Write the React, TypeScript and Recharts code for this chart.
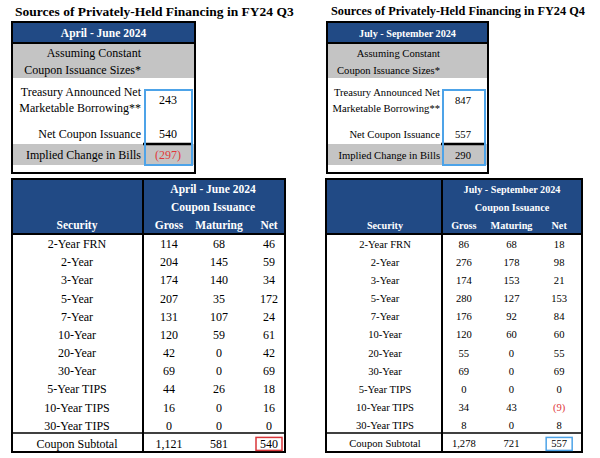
import { ScatterChart, Scatter, XAxis, YAxis, Customized } from 'recharts';

const securities = [
  '2-Year FRN', '2-Year', '3-Year', '5-Year', '7-Year', '10-Year', '20-Year',
  '30-Year', '5-Year TIPS', '10-Year TIPS', '30-Year TIPS', 'Coupon Subtotal',
];
const columns = ['Gross', 'Maturing', 'Net'];

const q3Gross = [114, 204, 174, 207, 131, 120, 42, 69, 44, 16, 0, 1121];
const q3Maturing = [68, 145, 140, 35, 107, 59, 0, 0, 26, 0, 0, 581];
const q3Net = [46, 59, 34, 172, 24, 61, 42, 69, 18, 16, 0, 540];

const q4Gross = [86, 276, 174, 280, 176, 120, 55, 69, 0, 34, 8, 1278];
const q4Maturing = [68, 178, 153, 127, 92, 60, 0, 0, 0, 43, 0, 721];
const q4Net = [18, 98, 21, 153, 84, 60, 55, 69, 0, -9, 8, 557];

const borrowingLabels = [
  ['Treasury Announced Net', 'Marketable Borrowing**'],
  ['Net Coupon Issuance'],
  ['Implied Change in Bills'],
];
const q3Borrowing = [243, 540, -297];
const q4Borrowing = [847, 557, 290];

const BLUE = '#214a85';
const GREY = '#c4c4c4';
const LIGHT_BLUE = '#4da3e8';
const RED = '#e0383a';
const FONT = '"Liberation Serif", serif';

const fmt = (v: number) => {
  const s = Math.abs(v).toLocaleString('en-US');
  return v < 0 ? `(${s})` : s;
};

type HalfProps = {
  title: string;
  period: string;
  borrowing: number[];
  gross: number[];
  maturing: number[];
  net: number[];
  g: any;
  subtotalBox: string;
};

const Half = ({ title, period, borrowing, gross, maturing, net, g, subtotalBox }: HalfProps) => {
  const series = [gross, maturing, net].map((vals, c) =>
    securities.map((row, i) => ({ row, col: c, value: vals[i] }))
  );
  const fs = g.fs;
  const fb = g.fb;

  const Deco = () => (
    <g fontFamily={FONT}>
      <text x={g.titleX} y={11} dominantBaseline="central" fontSize={g.ft} fontWeight="bold" fill="#000">{title}</text>
      {/* top box */}
      <rect x={g.bx0} y={22} width={g.bx1 - g.bx0} height={151} fill="#fff" stroke="#000" strokeWidth={2} />
      <rect x={g.bx0 + 1} y={23} width={g.bx1 - g.bx0 - 2} height={20} fill={BLUE} />
      <line x1={g.bx0} x2={g.bx1} y1={43} y2={43} stroke="#000" strokeWidth={2} />
      <rect x={g.bx0 + 1} y={44} width={g.bx1 - g.bx0 - 2} height={34} fill={GREY} />
      <rect x={g.bx0 + 1} y={144} width={g.bx1 - g.bx0 - 2} height={21} fill={GREY} />
      <text x={(g.bx0 + g.bx1) / 2} y={33} textAnchor="middle" dominantBaseline="central" fontSize={fb} fontWeight="bold" fill="#fff">{period}</text>
      <text x={g.labelR} y={53} textAnchor="end" dominantBaseline="central" fontSize={fs}>Assuming Constant</text>
      <text x={g.labelR} y={70} textAnchor="end" dominantBaseline="central" fontSize={fs}>Coupon Issuance Sizes*</text>
      {borrowingLabels.map((lines, i) => {
        const ys = [[92, 108], [134], [155]][i];
        const vy = [100, 134, 155][i];
        return (
          <g key={i}>
            {lines.map((l, j) => (
              <text key={j} x={g.labelR} y={ys[j]} textAnchor="end" dominantBaseline="central" fontSize={fs}>{l}</text>
            ))}
            <text x={g.valX} y={vy} textAnchor="middle" dominantBaseline="central" fontSize={fs} fill={borrowing[i] < 0 ? RED : '#000'}>{fmt(borrowing[i])}</text>
          </g>
        );
      })}
      <line x1={g.valBox0 - 2} x2={g.valBox1 + 1} y1={144} y2={144} stroke="#000" strokeWidth={2.5} />
      <rect x={g.valBox0} y={90} width={g.valBox1 - g.valBox0} height={75} fill="none" stroke={LIGHT_BLUE} strokeWidth={2} />
      {/* bottom table */}
      <rect x={g.tx0} y={179} width={g.tx1 - g.tx0} height={55} fill={BLUE} />
      <rect x={g.tx0} y={179} width={g.tx1 - g.tx0} height={273} fill="none" stroke="#000" strokeWidth={2} />
      <line x1={g.div} x2={g.div} y1={179} y2={452} stroke="#000" strokeWidth={2} />
      <line x1={g.tx0} x2={g.tx1} y1={234} y2={234} stroke="#000" strokeWidth={2} />
      <line x1={g.tx0} x2={g.tx1} y1={433} y2={433} stroke="#000" strokeWidth={1.5} />
      <text x={g.headX} y={189} textAnchor="middle" dominantBaseline="central" fontSize={fb} fontWeight="bold" fill="#fff">{period}</text>
      <text x={g.headX} y={207} textAnchor="middle" dominantBaseline="central" fontSize={fb} fontWeight="bold" fill="#fff">Coupon Issuance</text>
      <text x={g.secX} y={225} textAnchor="middle" dominantBaseline="central" fontSize={fb} fontWeight="bold" fill="#fff">Security</text>
    </g>
  );

  const cellShape = (p: any) => {
    const { cx, cy, payload } = p;
    const isBox = payload.row === 'Coupon Subtotal' && columns[payload.col] === 'Net';
    return (
      <g fontFamily={FONT}>
        {isBox && (
          <rect x={cx - 13} y={cy - 6.5} width={26} height={13} fill="none" stroke={subtotalBox} strokeWidth={1.5} />
        )}
        <text x={cx} y={cy} textAnchor="middle" dominantBaseline="central" fontSize={fs} fill={payload.value < 0 ? RED : '#000'}>
          {fmt(payload.value)}
        </text>
      </g>
    );
  };

  return (
    <ScatterChart width={300} height={458} margin={g.margin}>
      <Customized component={Deco} />
      <XAxis
        type="number"
        dataKey="col"
        orientation="top"
        height={20}
        domain={[-0.5, 2.5]}
        ticks={[0, 1, 2]}
        axisLine={false}
        tickLine={false}
        interval={0}
        tick={(p: any) => (
          <text x={p.x} y={225} textAnchor="middle" dominantBaseline="central" fontSize={fb} fontWeight="bold" fill="#fff" fontFamily={FONT}>
            {columns[p.payload.value]}
          </text>
        )}
      />
      <YAxis
        type="category"
        dataKey="row"
        width={g.yw}
        allowDuplicatedCategory={false}
        axisLine={false}
        tickLine={false}
        interval={0}
        reversed
        tick={(p: any) => (
          <text x={g.secX} y={p.y} textAnchor="middle" dominantBaseline="central" fontSize={fs} fill="#000" fontFamily={FONT}>
            {p.payload.value}
          </text>
        )}
      />
      {series.map((d, i) => (
        <Scatter key={i} data={d} isAnimationActive={false} shape={cellShape} />
      ))}
    </ScatterChart>
  );
};

// coordinates are local to each 300px-wide half
const leftGeom = {
  titleX: 15, bx0: 12, bx1: 195, labelR: 141, valX: 168, valBox0: 145, valBox1: 192,
  tx0: 12, tx1: 285, div: 143, headX: 213, secX: 77, yw: 132,
  fs: 12, fb: 11.5, ft: 13.5,
  margin: { top: 215, right: 6, bottom: 5, left: 12 },
};
const rightGeom = {
  titleX: 31, bx0: 27, bx1: 188, labelR: 140, valX: 163, valBox0: 143, valBox1: 185,
  tx0: 26, tx1: 282, div: 142, headX: 212, secX: 85, yw: 128,
  fs: 10.6, fb: 10.2, ft: 12.3,
  margin: { top: 215, right: 17, bottom: 5, left: 12 },
};

export default function App() {
  return (
    <div style={{ position: 'absolute', left: 0, top: 0, width: 600, height: 458, background: '#fff', display: 'flex' }}>
      <Half title="Sources of Privately-Held Financing in FY24 Q3" period="April - June 2024" borrowing={q3Borrowing}
        gross={q3Gross} maturing={q3Maturing} net={q3Net} g={leftGeom} subtotalBox="#d9363a" />
      <Half title="Sources of Privately-Held Financing in FY24 Q4" period="July - September 2024" borrowing={q4Borrowing}
        gross={q4Gross} maturing={q4Maturing} net={q4Net} g={rightGeom} subtotalBox={LIGHT_BLUE} />
    </div>
  );
}
